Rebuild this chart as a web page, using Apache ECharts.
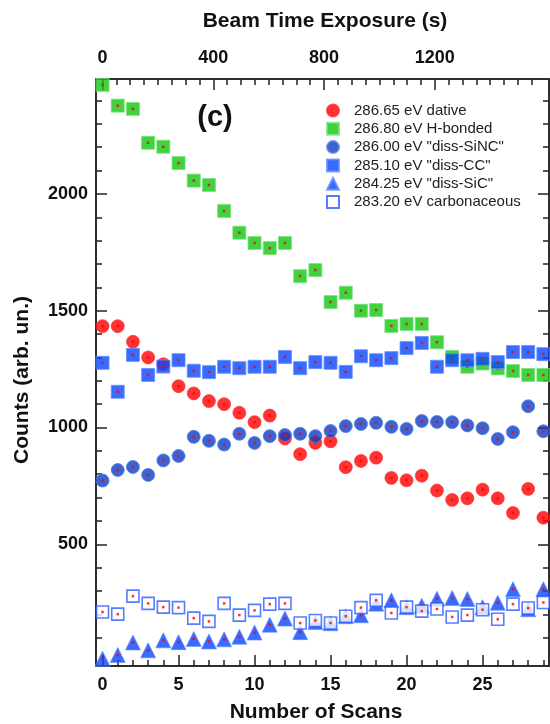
<!DOCTYPE html>
<html><head><meta charset="utf-8">
<script src="https://cdn.jsdelivr.net/npm/echarts@6/dist/echarts.min.js"></script>
<style>html,body{margin:0;padding:0;background:#fff}#c{width:550px;height:724px}</style>
</head><body><div id="c"></div>
<script>
// ---- data ----
const scans = [0,1,2,3,4,5,6,7,8,9,10,11,12,13,14,15,16,17,18,19,20,21,22,23,24,25,26,27,28,29];
const dative = [1434,1434,1367,1300,1271,1177,1146,1113,1100,1063,1023,1051,953,886,934,941,830,857,871,784,774,794,730,690,697,734,697,634,737,614];
const hBonded = [2467,2378,2364,2219,2202,2132,2057,2038,1927,1834,1790,1768,1790,1648,1674,1537,1577,1500,1503,1435,1443,1443,1365,1302,1260,1274,1253,1242,1225,1225];
const dissSiNC = [773,818,831,797,859,878,960,943,927,973,934,963,968,973,963,985,1006,1015,1020,1003,994,1028,1024,1023,1009,997,951,980,1091,984];
const dissCC = [1277,1153,1311,1225,1261,1288,1243,1237,1260,1254,1260,1260,1302,1254,1280,1277,1238,1305,1288,1297,1340,1362,1260,1288,1288,1294,1280,1323,1323,1314];
const dissSiC = [10,26,80,46,89,81,95,84,93,104,122,156,182,124,167,162,192,196,246,260,231,237,267,270,266,231,250,308,222,308];
const carbon = [210,201,278,247,231,229,184,170,247,197,217,244,247,163,174,163,192,229,260,206,231,214,223,189,197,220,179,244,227,251];
const seriesNames = ['286.65 eV dative','286.80 eV H-bonded','286.00 eV "diss-SiNC"','285.10 eV "diss-CC"','284.25 eV "diss-SiC"','283.20 eV carbonaceous'];
const scanLabels = [0,5,10,15,20,25];
const timeLabels = [0,400,800,1200];
const countLabels = [500,1000,1500,2000];
const SEC_PER_SCAN = 54.9;

// ---- layout ----
const XMIN = -0.43, XMAX = 29.37, YMIN = -21, YMAX = 2492;
const FF = '"Liberation Sans", Arial, sans-serif';
const AX = '#222';

function pts(v){ return scans.map((s,i)=>[s, v[i]]); }
const range = (a,b,st)=>{const r=[];for(let v=a;v<=b;v+=st)r.push(v);return r;};

const xMinor = scans.filter(v=>v%5!==0);
const xMajor = scans.filter(v=>v%5===0);
const tMinor = range(50,1550,50).filter(v=>v%400!==0);
const yMinor = range(100,2400,100).filter(v=>v%500!==0);
const lab = {fontFamily:FF, fontWeight:'bold', fontSize:18, color:'#111', formatter:v=>String(v)};
const line = {show:true, onZero:false, lineStyle:{color:AX, width:1.5}};
const tk = (vals,len)=>({show:true, inside:true, length:len, customValues:vals, lineStyle:{color:AX,width:1.5}});

function xAx(pos, mn, mx, labels, major, minor, withLabel){
  return [
    {type:'value', position:pos, min:mn, max:mx, splitLine:{show:false}, axisLine:line,
     axisTick:tk(major,11), axisLabel: withLabel ? Object.assign({customValues:labels, margin: pos==='top'?12:10}, lab) : {show:false}},
    {type:'value', position:pos, min:mn, max:mx, splitLine:{show:false}, axisLine:line,
     axisTick:tk(minor,6), axisLabel:{show:false}}
  ];
}
function yAx(pos, withLabel){
  return [
    {type:'value', position:pos, min:YMIN, max:YMAX, splitLine:{show:false}, axisLine:line,
     axisTick:tk(countLabels,11), axisLabel: withLabel ? Object.assign({customValues:countLabels, margin:8}, lab) : {show:false}},
    {type:'value', position:pos, min:YMIN, max:YMAX, splitLine:{show:false}, axisLine:line,
     axisTick:tk(yMinor,6), axisLabel:{show:false}}
  ];
}

const styles = [
  {data:dative, symbol:'circle', size:13, item:{color:'#ff0000', borderColor:'#ff2a2a', borderWidth:0.8}},
  {data:hBonded, symbol:'rect', size:13, item:{color:'#10c810', borderColor:'#7ee07e', borderWidth:1}},
  {data:dissSiNC, symbol:'circle', size:13, item:{color:'#0a3cc8', borderColor:'#5a7ee0', borderWidth:1}},
  {data:dissCC, symbol:'rect', size:13, item:{color:'#0646ff', borderColor:'#6a8cff', borderWidth:1}},
  {data:dissSiC, symbol:'triangle', size:15, item:{color:'#0646ff', borderColor:'#6a8cff', borderWidth:0.8}},
  {data:carbon, symbol:'rect', size:12, item:{color:'#ffffff', borderColor:'#2c5cff', borderWidth:1.6}}
];
const series = [];
styles.forEach((s,i)=>{
  series.push({type:'scatter', name:seriesNames[i], data:pts(s.data), symbol:s.symbol, symbolSize:s.size,
    itemStyle:s.item, xAxisIndex:0, yAxisIndex:0, emphasis:{disabled:true}, animation:false});
  series.push({type:'scatter', name:'c'+i, data:pts(s.data), symbol:'rect', symbolSize:2.5,
    itemStyle:{color:'#ff0000'}, xAxisIndex:0, yAxisIndex:0, silent:true, emphasis:{disabled:true}, animation:false});
});

const chart = echarts.init(document.getElementById('c'), null, {renderer:'canvas'});
chart.setOption({
  backgroundColor:'#fff',
  animation:false,
  grid:{left:96, right:1, top:79, bottom:58, containLabel:false},
  xAxis:[].concat(
    xAx('bottom', XMIN, XMAX, scanLabels, xMajor, xMinor, true),
    xAx('top', XMIN*SEC_PER_SCAN, XMAX*SEC_PER_SCAN, timeLabels, timeLabels, tMinor, true)
  ),
  yAxis:[].concat(yAx('left', true), yAx('right', false)),
  legend:{data:seriesNames, orient:'vertical', left:326, top:103, itemWidth:12, itemHeight:12, itemGap:3.3,
    padding:0, selectedMode:false, textStyle:{fontFamily:FF, fontSize:15, color:'#222', padding:[0,0,0,10]}},
  graphic:[
    {type:'text', x:215, y:118, style:{text:'(c)', align:'center', verticalAlign:'middle', fontFamily:FF, fontWeight:'bold', fontSize:29, fill:'#111'}},
    {type:'text', x:22, y:380, rotation:Math.PI/2, style:{text:'Counts (arb. un.)', align:'center', verticalAlign:'middle', fontFamily:FF, fontWeight:'bold', fontSize:21, fill:'#111'}},
    {type:'text', x:316, y:712, style:{text:'Number of Scans', align:'center', verticalAlign:'middle', fontFamily:FF, fontWeight:'bold', fontSize:21, fill:'#111'}},
    {type:'text', x:325, y:21, style:{text:'Beam Time Exposure (s)', align:'center', verticalAlign:'middle', fontFamily:FF, fontWeight:'bold', fontSize:21, fill:'#111'}}
  ],
  series:series
});
</script></body></html>
